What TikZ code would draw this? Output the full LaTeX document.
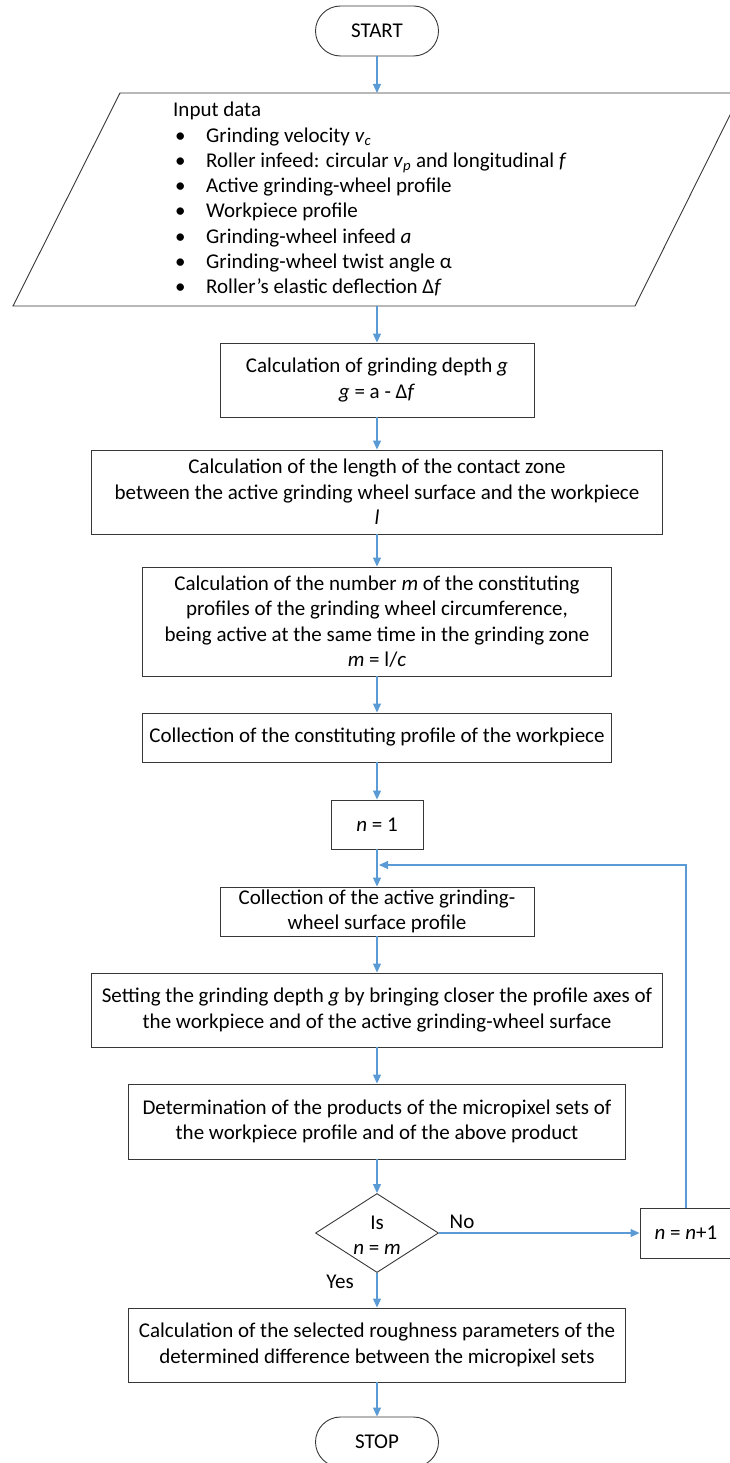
\documentclass[tikz,border=0pt]{standalone}
\usepackage{fontspec}
\setmainfont{Carlito}
\usetikzlibrary{shapes.geometric,shapes.misc,arrows.meta}
\definecolor{flowblue}{RGB}{91,155,213}
\definecolor{boxline}{RGB}{55,55,55}
\newcommand{\bul}{\hspace*{2pt}\makebox[31pt][l]{•}}
\begin{document}
\begin{tikzpicture}[x=1pt,y=-1pt,
    font=\fontsize{21}{25.3}\selectfont,
    terminal/.style ={rounded rectangle, draw=boxline, line width=0.9pt, minimum width=123pt, minimum height=50pt, inner sep=0pt},
    process/.style ={rectangle, draw=boxline, line width=0.9pt, align=center, inner sep=0pt},
    decision/.style ={diamond, draw=boxline, line width=0.9pt, minimum width=123pt, minimum height=79pt, inner sep=0pt},
    flow/.style ={draw=flowblue, line width=1.1pt, -{Triangle[length=9pt,width=8pt]}}]
   \useasboundingbox (0,0) rectangle (729,1463);
   % terminals and input
   \node[terminal] (start) at (377,31) {START};
   \draw[boxline, line width=0.9pt] (120,93) -- (741,93) -- (635,306) -- (13,306) -- cycle;
   \coordinate (intop) at (377,93);
   \coordinate (inbot) at (377,306);
   \node[anchor=north west, align=left, inner sep=0pt] (input) at (173,102)
     {Input data\\
      \bul Grinding velocity \textit{v}\textsubscript{\textit{c}}\\
      \bul Roller infeed: circular \textit{v}\textsubscript{\textit{p}} and longitudinal \textit{f}\\
      \bul Active grinding-wheel profile\\
      \bul Workpiece profile\\
      \bul Grinding-wheel infeed \textit{a}\\
      \bul Grinding-wheel twist angle α\\
      \bul Roller's elastic deflection Δ\textit{f}};
   % process boxes
   \node[process, minimum width=314pt, minimum height=74pt] (depth) at (377,380)
     {Calculation of grinding depth \textit{g}\\\textit{g} = a - Δ\textit{f}};
   \node[process, minimum width=571pt, minimum height=84pt] (contact) at (377,492)
     {Calculation of the length of the contact zone\\between the active grinding wheel surface and the workpiece\\\textit{l}};
   \node[process, minimum width=469pt, minimum height=109pt] (number) at (377,621.5)
     {Calculation of the number \textit{m} of the constituting\\profiles of the grinding wheel circumference,\\being active at the same time in the grinding zone\\\textit{m} = l/\textit{c}};
   \node[process, minimum width=469pt, minimum height=49pt] (workpiece) at (377,737.5)
     {Collection of the constituting profile of the workpiece};
   \node[process, minimum width=92pt, minimum height=49pt] (init) at (377,824.5)
     {\textit{n} = 1};
   \node[process, minimum width=314pt, minimum height=49pt] (active) at (377,911.5)
     {Collection of the active grinding-\\wheel surface profile};
   \node[process, minimum width=571pt, minimum height=74pt] (setting) at (377,1010)
     {Setting the grinding depth \textit{g} by bringing closer the profile axes of\\the workpiece and of the active grinding-wheel surface};
   \node[process, minimum width=497pt, minimum height=75pt] (products) at (377,1121.5)
     {Determination of the products of the micropixel sets of\\the workpiece profile and of the above product};
   \node[decision] (check) at (377,1233) {};
   \node[align=center, inner sep=0pt] (checktxt) at (377,1235) {Is\\\textit{n} = \textit{m}};
   \node[process, minimum width=92pt, minimum height=50pt] (incr) at (686,1233)
     {\textit{n} = \textit{n}+1};
   \node[process, minimum width=497pt, minimum height=74pt] (rough) at (377,1345)
     {Calculation of the selected roughness parameters of the\\determined difference between the micropixel sets};
   \node[terminal] (stop) at (377,1442) {STOP};
   \node[inner sep=0pt] (nolbl) at (462,1222) {No};
   \node[inner sep=0pt] (yeslbl) at (340,1282) {Yes};
   % connectors
   \coordinate (loopjoin) at (379,865);
   \draw[flow] (start) to (intop);
   \draw[flow] (inbot) to (depth);
   \draw[flow] (depth) to (contact);
   \draw[flow] (contact) to (number);
   \draw[flow] (number) to (workpiece);
   \draw[flow] (workpiece) to (init);
   \draw[flow] (init) to (active);
   \draw[flow] (active) to (setting);
   \draw[flow] (setting) to (products);
   \draw[flow] (products) to (check);
   \draw[flow] (check) to (incr);
   \draw[flow] (incr.north) |- (loopjoin);
   \draw[flow] (check) to (rough);
   \draw[flow] (rough) to (stop);
\end{tikzpicture}
\end{document}
